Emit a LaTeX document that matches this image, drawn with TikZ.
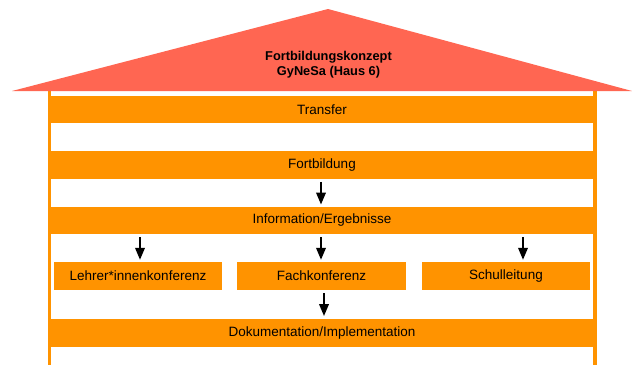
\documentclass[tikz,border=0pt]{standalone}
\usepackage{fontspec}
\setmainfont{Liberation Sans}
\usetikzlibrary{arrows.meta}
\definecolor{roofred}{RGB}{255,102,82}
\definecolor{barorange}{RGB}{255,147,0}
\tikzset{
  bar/.style={fill=barorange, draw=none, minimum width=548pt, minimum height=27.5pt, inner sep=0pt,
    font=\fontsize{13.5}{16}\selectfont, text=black},
  subbox/.style={fill=barorange, draw=none, minimum width=168.5pt, minimum height=28pt, inner sep=0pt,
    font=\fontsize{13.5}{16}\selectfont, text=black},
  pillar/.style={fill=barorange, draw=none},
  arr/.style={draw=black, line width=2pt, -{Triangle[width=9.5pt,length=12pt]}},
}
\begin{document}
\begin{tikzpicture}[x=1pt, y=-1pt]
\useasboundingbox (0,0) rectangle (632,365);
% pillars
\fill[pillar] (47.5,90) rectangle (51,365);
\fill[pillar] (593,90) rectangle (596.5,365);
% roof
\fill[roofred] (12,91) -- (328,9) -- (632,91) -- cycle;
\node[align=center, font=\bfseries\fontsize{12.8}{15.5}\selectfont, text=black] (roof) at (328.5,64.5)
  {Fortbildungskonzept\\GyNeSa (Haus 6)};
% bars
\node[bar] (transfer) at (322,109.5) {Transfer};
\node[bar] (fort) at (322,165) {Fortbildung};
\node[bar] (info) at (322,220.5) {Information/Ergebnisse};
\node[subbox] (lehrer) at (138,276) {Lehrer*innenkonferenz};
\node[subbox] (fach) at (321.5,276) {Fachkonferenz};
\node[subbox] (schul) at (506,276) {Schulleitung};
\node[bar] (doku) at (322,333) {Dokumentation/Implementation};
% arrow columns
\coordinate (c0) at (321,0);
\coordinate (c1) at (140,0);
\coordinate (c2) at (321,0);
\coordinate (c3) at (523,0);
\coordinate (c4) at (324,0);
% arrows
\draw[arr, shorten <=3pt, shorten >=2pt] (fort.south -| c0) -- (info.north -| c0);
\draw[arr, shorten <=3pt, shorten >=2pt] (info.south -| c1) -- (lehrer.north -| c1);
\draw[arr, shorten <=3pt, shorten >=2pt] (info.south -| c2) -- (fach.north -| c2);
\draw[arr, shorten <=3pt, shorten >=2pt] (info.south -| c3) -- (schul.north -| c3);
\draw[arr, shorten <=3pt, shorten >=3pt] (fach.south -| c4) -- (doku.north -| c4);
\end{tikzpicture}
\end{document}
